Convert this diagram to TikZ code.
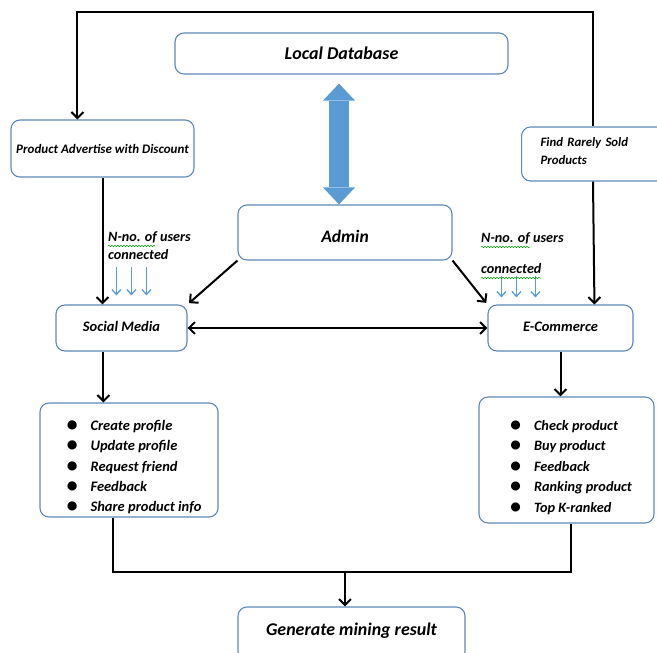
\documentclass[tikz,border=0pt]{standalone}
\usepackage{fontspec}
\usepackage{graphicx}
\setmainfont{Carlito}
\usetikzlibrary{arrows.meta,decorations.pathmorphing}
\definecolor{boxline}{RGB}{95,135,185}
\definecolor{fatblue}{RGB}{91,155,213}
\tikzset{
	box/.style={draw=boxline,line width=1.1pt,rounded corners=9pt,font=\bfseries\itshape},
	conn/.style={line width=2pt,-{Straight Barb[length=6pt,width=12pt]}},
	plainline/.style={line width=2pt},
	userarrow/.style={fatblue,line width=1.3pt,-{Straight Barb[length=5pt,width=9pt]}},
	squiggle/.style={green!60!black,line width=0.5pt,decorate,decoration={snake,amplitude=0.7pt,segment length=3pt}}
}
\newcommand{\itm}[1]{\makebox[24pt][l]{\raisebox{-1.2pt}{\scalebox{1.5}{\textbullet}}}#1}

\begin{document}
\begin{tikzpicture}[x=1pt,y=-1pt]
		\useasboundingbox (0,0) rectangle (657,653);

		\node[box,minimum width=333pt,minimum height=41pt,font=\bfseries\itshape\fontsize{18}{21}\selectfont] (db) at (341.5,53.5) {Local Database};
		\node[box,minimum width=183pt,minimum height=57pt,font=\bfseries\itshape\fontsize{13}{15}\selectfont] (prod) at (102.5,148.5) {Product Advertise with Discount};
		\node[box,anchor=west,text width=130pt,inner xsep=19pt,minimum height=54pt,align=left,font=\bfseries\itshape\fontsize{12.8}{18}\selectfont] (find) at (521,154) {\raisebox{3pt}[\height][\depth]{Find Rarely Sold}\\\raisebox{3pt}[\height][\depth]{Products}};
		\node[box,minimum width=214pt,minimum height=55pt,font=\bfseries\itshape\fontsize{17.5}{20}\selectfont] (admin) at (345,232.5) {\raisebox{-4pt}[\height][\depth]{Admin}};
		\node[box,minimum width=131pt,minimum height=46pt,font=\bfseries\itshape\fontsize{14.5}{17}\selectfont] (social) at (121.5,328) {\raisebox{2pt}[\height][\depth]{Social Media}};
		\node[box,minimum width=145pt,minimum height=46pt,font=\bfseries\itshape\fontsize{14.5}{17}\selectfont] (ecom) at (560.5,328) {\raisebox{1pt}[\height][\depth]{E-Commerce}};

		\node[box,minimum width=178pt,minimum height=114pt,font=\bfseries\itshape\fontsize{14.5}{20.3}\selectfont] (listL) at (129,460)
			{\raisebox{-7pt}[\height][\depth]{\hspace*{10pt}\begin{tabular}{@{}l@{}}\itm{Create profile}\\\itm{Update profile}\\\itm{Request friend}\\\itm{Feedback}\\\itm{Share product info}\end{tabular}}};
		\node[box,minimum width=175pt,minimum height=126pt,font=\bfseries\itshape\fontsize{14.3}{20.5}\selectfont] (listR) at (566.5,460)
			{\raisebox{-7pt}[\height][\depth]{\hspace*{9pt}\begin{tabular}{@{}l@{}}\itm{Check product}\\\itm{Buy product}\\\itm{Feedback}\\\itm{Ranking product}\\\itm{Top K-ranked}\end{tabular}}};
		\node[box,minimum width=227pt,minimum height=53pt,font=\bfseries\itshape\fontsize{17.9}{21}\selectfont] (gen) at (351.5,633.5) {\raisebox{3pt}[\height][\depth]{Generate mining result}};

		\node[anchor=west,align=left,inner sep=0pt,font=\bfseries\itshape\fontsize{14.2}{18}\selectfont] (usersL) at (108,246) {N-no. of users\\connected};
		\node[anchor=west,align=left,inner sep=0pt,font=\bfseries\itshape\fontsize{14.2}{31}\selectfont] (usersR) at (481,253.5) {N-no. of users\\connected};

		% database <-> admin
		\draw[fatblue,line width=20pt,{Triangle[width=32pt,length=17pt,line width=0pt]}-{Triangle[width=32pt,length=17pt,line width=0pt]}]
			([xshift=-2.5pt,yshift=-9pt]db.south) -- ([xshift=-6pt]admin.north);

		% loop over the top
		\draw[conn] ([xshift=72pt]find.north west) |- ([xshift=67pt,yshift=107pt]prod.north west) -- ([xshift=67pt]prod.north west);

		\draw[conn] (prod.south) -- (prod.south |- social.north);
		\draw[conn] ([xshift=72pt]find.south west) -- ([xshift=107pt]ecom.north west);
		\draw[conn,shorten >=2pt] (admin.south west) -- (social.north east);
		\draw[conn,shorten >=2pt] (admin.south east) -- (ecom.north west);
		\draw[conn,{Straight Barb[length=6pt,width=12pt]}-{Straight Barb[length=6pt,width=12pt]}] (social.east) -- (ecom.west);

		\foreach \dx in {61,76,91}
			\draw[userarrow] ([xshift=\dx pt,yshift=37pt]social.north west) -- ++(0,28);
		\foreach \dx in {14,29,48}
			\draw[userarrow] ([xshift=\dx pt,yshift=28pt]ecom.north west) -- ++(0,21);

		\draw[squiggle] (108,246) -- (155,246);
		\draw[squiggle] (481,247) -- (530,247);
		\draw[squiggle] (481,278) -- (541,278);

		\draw[conn] ([xshift=48pt]social.south west) -- ([xshift=64pt]listL.north west);
		\draw[conn] (ecom.south) -- (ecom.south |- listR.north);

		\coordinate (join) at (345,572);
		\draw[plainline] ([xshift=-16pt]listL.south) |- (join) -| ([xshift=4.5pt]listR.south);
		\draw[conn] (join) -- (join |- gen.north);
	\end{tikzpicture}
\end{document}
